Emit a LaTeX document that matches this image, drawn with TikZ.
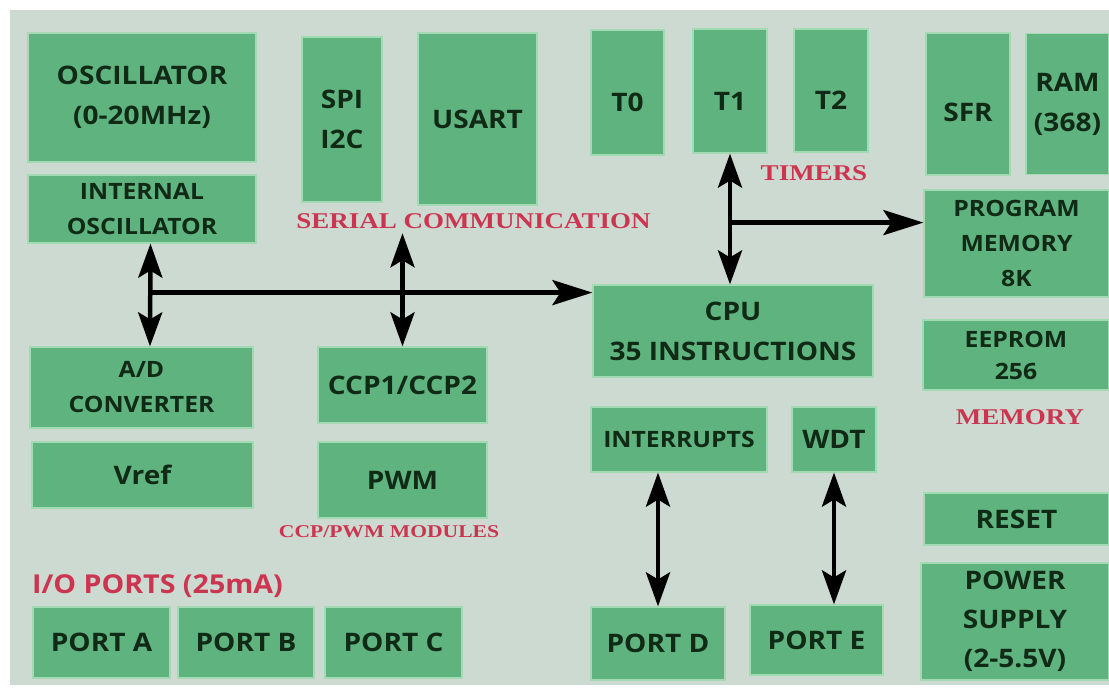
\documentclass[tikz,border=0pt]{standalone}
\usepackage{fontspec}
\setmainfont{Open Sans}[FakeStretch=1.1]
\newfontfamily\redserif{Liberation Serif}[FakeStretch=1.2]
\usetikzlibrary{arrows.meta}
\definecolor{bgc}{HTML}{CDDAD1}
\definecolor{boxc}{HTML}{5FB37F}
\definecolor{edgec}{HTML}{A3DAB4}
\definecolor{txtc}{HTML}{102A16}
\definecolor{redc}{HTML}{CC3550}
\begin{document}
\begin{tikzpicture}[x=1pt,y=-1pt,
 box/.style={fill=boxc, draw=edgec, line width=1.2pt, inner sep=0pt, align=center, text=txtc, font=\bfseries\fontsize{25.5}{40}\selectfont},
 sm/.style={font=\bfseries\fontsize{22.5}{35}\selectfont},
 redlbl/.style={text=redc, inner sep=0pt, font=\redserif\bfseries\fontsize{22.5}{22.5}\selectfont},
 dbl/.style={line width=4.5pt, {Stealth[length=34pt,width=24pt,inset=7pt]}-{Stealth[length=34pt,width=24pt,inset=7pt]}},
 one/.style={line width=4.5pt, -{Stealth[length=40pt,width=25pt,inset=8pt]}},
]
\useasboundingbox (0,0) rectangle (1109,692);
\fill[white] (0,0) rectangle (1109,692);
\fill[bgc] (10,10) rectangle (1109,685);

% boxes
\node[box, minimum width=228pt, minimum height=129pt] (osc) at (142,97.5) {OSCILLATOR\\(0-20MHz)};
\node[box, sm, minimum width=228pt, minimum height=68pt] (intosc) at (142,209) {INTERNAL\\OSCILLATOR};
\node[box, minimum width=80pt, minimum height=165pt] (spi) at (342,119.5) {SPI\\I2C};
\node[box, minimum width=119pt, minimum height=172pt] (usart) at (477.5,119) {USART};
\node[box, minimum width=73pt, minimum height=125pt, text height=39pt] (t0) at (627.5,92.5) {T0};
\node[box, minimum width=74pt, minimum height=124pt, text height=39pt] (t1) at (730,91) {T1};
\node[box, minimum width=74pt, minimum height=123pt, text height=39pt] (t2) at (831,90.5) {T2};
\node[box, minimum width=84pt, minimum height=142pt, text height=35pt] (sfr) at (968,104) {SFR};
\node[box, minimum width=83pt, minimum height=141pt] (ram) at (1067.5,104) {RAM\\(368)};
\node[box, sm, minimum width=185pt, minimum height=107pt] (prog) at (1016.5,243.5) {PROGRAM\\MEMORY\\8K};
\node[box, font=\bfseries\fontsize{22.5}{32}\selectfont, minimum width=186pt, minimum height=70pt] (eeprom) at (1016,355) {EEPROM\\256};
\node[box, minimum width=185pt, minimum height=52pt] (reset) at (1016.5,519) {RESET};
\node[box, font=\bfseries\fontsize{25.5}{39}\selectfont, minimum width=188pt, minimum height=117pt] (power) at (1015,621.5) {POWER\\SUPPLY\\(2-5.5V)};
\node[box, minimum width=280pt, minimum height=92pt] (cpu) at (733,331) {CPU\\35 INSTRUCTIONS};
\node[box, sm, minimum width=176pt, minimum height=65pt] (intr) at (679,439.5) {INTERRUPTS};
\node[box, minimum width=84pt, minimum height=65pt] (wdt) at (834,439.5) {WDT};
\node[box, sm, minimum width=223pt, minimum height=81pt] (ad) at (141.5,387.5) {A/D\\CONVERTER};
\node[box, minimum width=221pt, minimum height=66pt] (vref) at (142.5,475) {Vref};
\node[box, minimum width=169pt, minimum height=76pt] (ccp) at (402.5,385) {CCP1/CCP2};
\node[box, minimum width=169pt, minimum height=76pt] (pwm) at (402.5,480) {PWM};
\node[box, minimum width=137pt, minimum height=71pt] (porta) at (101.5,642.5) {PORT A};
\node[box, minimum width=136pt, minimum height=71pt] (portb) at (246,642.5) {PORT B};
\node[box, minimum width=137pt, minimum height=71pt] (portc) at (393.5,642.5) {PORT C};
\node[box, minimum width=134pt, minimum height=73pt] (portd) at (658,643.5) {PORT D};
\node[box, minimum width=133pt, minimum height=70pt] (porte) at (816.5,640) {PORT E};

% red labels
\node[redlbl] (serial) at (473.5,221.5) {SERIAL COMMUNICATION};
\node[redlbl] (timers) at (814,173) {TIMERS};
\node[redlbl] (memory) at (1020,417) {MEMORY};
\node[redlbl, font=\redserif\bfseries\fontsize{18}{18}\selectfont] (ccpmod) at (389,532) {CCP/PWM MODULES};
\node[text=redc, inner sep=0pt, font=\bfseries\fontsize{26}{26}\selectfont] (ioports) at (157.5,586) {I/O PORTS (25mA)};

% connectors
\coordinate (lx) at ([xshift=8.5pt]intosc.south);
\coordinate (ly) at ([xshift=8.5pt]ad.north);
\path (lx) ++(0,49) coordinate (bus);
\draw[dbl] (lx) -- (ly);
\draw[one] (bus) -- (bus -| cpu.west);
\path (ccp.north |- serial.south) ++(0,4) coordinate (sc);
\draw[dbl] (sc) -- (ccp.north);
\draw[dbl] (t1.south) -- (cpu.north -| t1.south);
\path (t1.south) ++(0,69) coordinate (tap);
\draw[one] (tap) -- (tap -| prog.west);
\draw[dbl] (portd.north |- intr.south) -- (portd.north);
\draw[dbl] (wdt.south) -- (wdt.south |- porte.north);
\end{tikzpicture}
\end{document}
